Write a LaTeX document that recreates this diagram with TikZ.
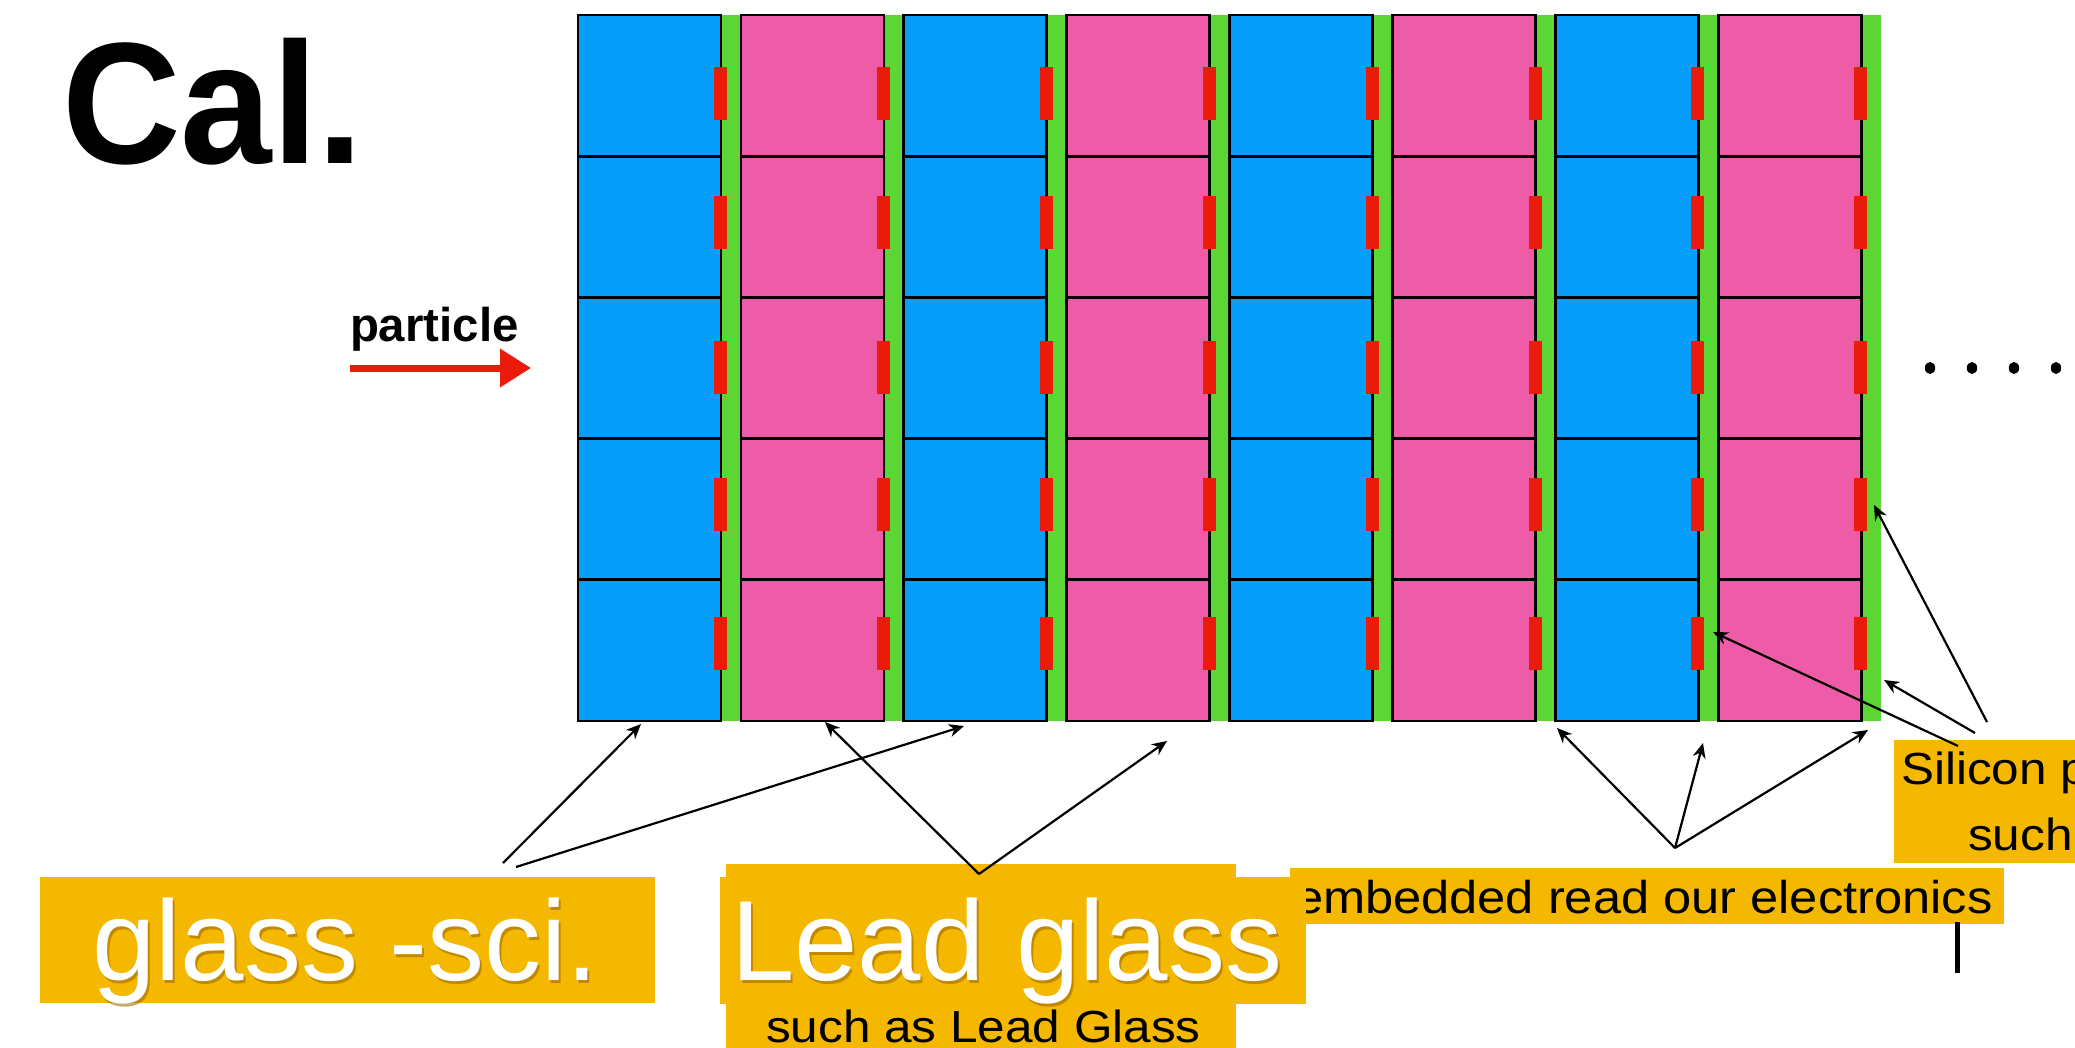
\documentclass[tikz,border=0pt]{standalone}
\usepackage{fontspec}
\setmainfont{Liberation Sans}
\newfontfamily\widesans[FakeStretch=1.1]{Liberation Sans}
\newfontfamily\titlesans[FakeStretch=0.95]{Liberation Sans}
\usetikzlibrary{arrows.meta}

\definecolor{cellblue}{RGB}{6,158,250}
\definecolor{cellpink}{RGB}{238,91,167}
\definecolor{stripgreen}{RGB}{91,214,52}
\definecolor{padred}{RGB}{234,27,10}
\definecolor{tagorange}{RGB}{244,184,0}
\definecolor{tagshadow}{RGB}{150,100,0}

\begin{document}
\begin{tikzpicture}[x=0.5pt,y=-0.5pt,
  cell/.style={draw=black,line width=1.4pt},
  pad/.style={fill=padred},
  strip/.style={fill=stripgreen},
  tag/.style={fill=tagorange},
  pointer/.style={draw=black,line width=1.1pt,-{Stealth[length=7.5pt,width=6.5pt]}},
  txt/.style={anchor=base west,inner sep=0pt,outer sep=0pt},
  small/.style={txt,font=\widesans\fontsize{22.5}{26}\selectfont},
  big/.style={txt,font=\fontsize{57}{60}\selectfont,text=white},
  bigshade/.style={txt,font=\fontsize{57}{60}\selectfont,text=tagshadow,opacity=.55}]
\useasboundingbox (0,0) rectangle (2075,1048);

% title and incoming particle
\node[txt,font=\titlesans\bfseries\fontsize{86.5}{90}\selectfont] (title) at (62,164) {Cal.};
\node[txt,font=\bfseries\fontsize{23.7}{26}\selectfont] (beamlabel) at (350,341) {particle};
\coordinate (beam-start) at (350,368);
\coordinate (beam-end) at (531,368);
\draw[padred,line width=3.5pt,-{Triangle[length=15.5pt,width=18.5pt]}] (beam-start) -- (beam-end);

% green sensor strips behind the columns
\foreach \c in {0,...,7}{
  \pgfmathsetmacro{\xo}{578+\c*162.9}
  \fill[strip] (\xo+143,15) rectangle (\xo+163,721);
}
% absorber / scintillator cells
\foreach \c in {0,...,7}{
  \pgfmathsetmacro{\xo}{578+\c*162.9}
  \pgfmathtruncatemacro{\odd}{mod(\c,2)}
  \ifnum\odd=0 \def\cellcol{cellblue}\else \def\cellcol{cellpink}\fi
  \foreach \r in {0,...,4}{
    \pgfmathsetmacro{\yo}{15+\r*141.2}
    \filldraw[cell,fill=\cellcol] (\xo,\yo) rectangle (\xo+143,\yo+141.2);
  }
}
% read-out pads on the cell edges
\foreach \c in {0,...,7}{
  \pgfmathsetmacro{\xo}{578+\c*162.9}
  \foreach \t in {67,196,341,478,617}{
    \fill[pad] (\xo+136,\t) rectangle (\xo+149,\t+53);
  }
}

% continuation dots
\foreach \d in {0,...,3}{
  \fill (1930+\d*42,368) ellipse [x radius=2.6pt,y radius=3pt];
}

% label boxes
\fill[tag] (726,864) rectangle (1236,1060);
\node[small] (leadsub) at (766,1042) {such as Lead Glass};
\fill[tag] (1290,868) rectangle (2004,924);
\node[small,font=\widesans\fontsize{23}{26}\selectfont] (embedded) at (1295,913) {embedded read our electronics};
\fill[tag] (1894,740) rectangle (2100,863);
\node[small] (silicon) at (1901,784) {Silicon p};
\node[small] (siliconsub) at (1968,850) {such};
\fill[black] (1955,922) rectangle (1960,973);

\fill[tag] (40,877) rectangle (655,1003);
\node[bigshade] (glasssci-shade) at (94,983) {glass -sci.};
\node[big] (glasssci) at (92,980) {glass -sci.};

% pointers
\coordinate (gs-from1) at (503,863);
\coordinate (gs-to1) at (641,724);
\coordinate (gs-from2) at (516,867);
\coordinate (gs-to2) at (964,726);
\coordinate (lg-from) at (979,874);
\coordinate (lg-to1) at (825,722);
\coordinate (lg-to2) at (1167,741);
\coordinate (em-from) at (1675,848);
\coordinate (em-to1) at (1557,728);
\coordinate (em-to2) at (1703,743);
\coordinate (em-to3) at (1868,730);
\coordinate (si-from1) at (1987,722);
\coordinate (si-to1) at (1874,505);
\coordinate (si-from2) at (1975,733);
\coordinate (si-to2) at (1884,680);
\coordinate (si-from3) at (1958,746);
\coordinate (si-to3) at (1713,632);
\draw[pointer] (gs-from1) -- (gs-to1);
\draw[pointer] (gs-from2) -- (gs-to2);
\draw[pointer] (lg-from) -- (lg-to1);
\draw[pointer] (lg-from) -- (lg-to2);
\draw[pointer] (em-from) -- (em-to1);
\draw[pointer] (em-from) -- (em-to2);
\draw[pointer] (em-from) -- (em-to3);
\draw[pointer] (si-from1) -- (si-to1);
\draw[pointer] (si-from2) -- (si-to2);
\draw[pointer] (si-from3) -- (si-to3);

\fill[tag] (720,877) rectangle (1306,1004);
\node[bigshade] (leadglass-shade) at (733,983) {Lead glass};
\node[big] (leadglass) at (731,980) {Lead glass};
\end{tikzpicture}
\end{document}
